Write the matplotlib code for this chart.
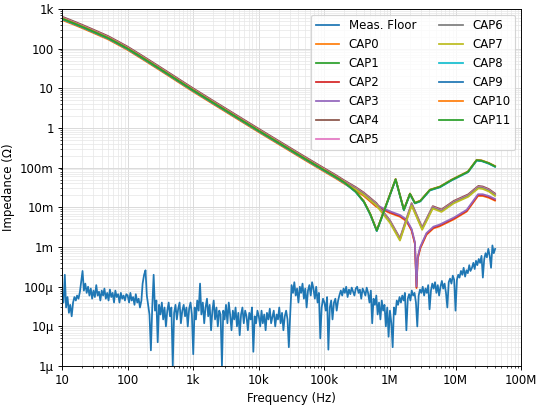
import numpy as np
import matplotlib
matplotlib.use('Agg')
import matplotlib.pyplot as plt
from matplotlib.ticker import EngFormatter

# ------------------------- Measurement floor -------------------------
# E48 frequency steps, one list of floor values (in micro-ohm) per decade
e48 = [1.00, 1.05, 1.10, 1.15, 1.21, 1.27, 1.33, 1.40, 1.47, 1.54, 1.62, 1.69,
       1.78, 1.87, 1.96, 2.05, 2.15, 2.26, 2.37, 2.49, 2.61, 2.74, 2.87, 3.01,
       3.16, 3.32, 3.48, 3.65, 3.83, 4.02, 4.22, 4.42, 4.64, 4.87, 5.11, 5.36,
       5.62, 5.90, 6.19, 6.49, 6.81, 7.15, 7.50, 7.87, 8.25, 8.66, 9.09, 9.53]

floor_10Hz = [70, 40, 200, 30, 55, 22, 35, 18, 40, 55, 45, 60,
              50, 75, 140, 250, 80, 120, 70, 100, 60, 90, 50, 80,
              55, 110, 60, 75, 45, 80, 60, 90, 50, 70, 45, 85,
              55, 70, 40, 80, 55, 65, 40, 70, 50, 60, 45, 65]
floor_100Hz = [60, 40, 70, 45, 55, 35, 65, 40, 50, 30, 45, 120,
               200, 260, 60, 35, 20, 2.5, 30, 200, 25, 45, 4, 35,
               20, 40, 15, 30, 10, 25, 40, 18, 30, 1.0, 22, 35,
               15, 28, 40, 12, 25, 35, 18, 30, 10, 28, 40, 20]
floor_1kHz = [2, 30, 15, 45, 25, 120, 20, 40, 12, 30, 50, 18,
              35, 8, 25, 45, 15, 30, 10, 25, 20, 1.0, 25, 15,
              35, 12, 40, 20, 8, 25, 15, 30, 10, 22, 6, 20,
              30, 12, 25, 18, 8, 22, 15, 30, 2.3, 18, 12, 25]
floor_10kHz = [18, 10, 25, 12, 20, 8, 22, 15, 28, 12, 18, 25,
               10, 20, 15, 30, 12, 22, 8, 18, 25, 15, 3, 20,
               110, 70, 130, 60, 90, 40, 100, 70, 120, 50, 90, 30,
               80, 110, 60, 130, 90, 50, 100, 40, 70, 5, 30, 50]
floor_100kHz = [40, 25, 55, 2.6, 30, 45, 15, 40, 50, 25, 45, 60,
                80, 60, 90, 70, 100, 55, 85, 65, 95, 75, 60, 90,
                100, 70, 85, 50, 90, 75, 60, 95, 70, 40, 80, 12,
                50, 35, 60, 20, 40, 15, 45, 25, 35, 10, 30, 5.5]
floor_1MHz = [25, 12, 3, 30, 20, 45, 35, 55, 40, 60, 45, 70,
              8, 50, 65, 45, 80, 60, 70, 40, 10, 60, 85, 70,
              100, 60, 90, 70, 110, 27, 80, 120, 90, 130, 70, 110,
              60, 100, 140, 90, 120, 70, 30, 130, 160, 120, 190, 150]
floor_10MHz = [25, 150, 200, 170, 250, 200, 300, 180, 260, 220, 350, 250,
               300, 400, 280, 450, 350, 500, 400, 600, 170, 500, 700, 550,
               900, 600, 300, 1100, 700, 900]

floor_decades = [floor_10Hz, floor_100Hz, floor_1kHz, floor_10kHz,
                 floor_100kHz, floor_1MHz, floor_10MHz]

floor_f = []
floor_z = []
for d, vals in enumerate(floor_decades):
    for m, v in zip(e48, vals):
        floor_f.append(m * 10 ** (d + 1))
        floor_z.append(v * 1e-6)

# ------------------------- Capacitor curves -------------------------
# shared low frequency part
cap_f_low = [10, 15, 20, 30, 50, 70, 100, 150, 200, 300, 500, 700, 1e3, 2e3, 5e3,
             1e4, 2e4, 5e4, 1e5, 1.5e5, 2e5]
cap_z_low = [570, 437, 359, 269, 186, 138, 100, 66, 49, 32, 18.6, 13, 8.9, 4.37, 1.72,
             0.85, 0.425, 0.17, 0.086, 0.058, 0.043]

# group A (upper curve)
fa = [3e5, 4e5, 5e5, 6.3e5, 1.22e6, 1.63e6, 2.02e6, 2.4e6, 2.9e6, 4.07e6,
      5.8e6, 8.7e6, 15.5e6, 21e6, 25e6, 32e6, 40e6]
za = [0.025, 0.014, 0.0068, 0.0026, 0.051, 0.0087, 0.022, 0.0129, 0.0145, 0.0275,
      0.033, 0.049, 0.079, 0.155, 0.150, 0.130, 0.108]

# group B (double dip)
fb = [3e5, 4e5, 6.2e5, 1e6, 1.42e6, 2.14e6, 3.1e6, 4.5e6, 6.1e6, 9.4e6,
      15.6e6, 19e6, 22.3e6, 26e6, 32e6, 40e6]
zb = [0.029, 0.021, 0.0115, 0.0042, 0.0015, 0.0114, 0.0028, 0.0096, 0.0079, 0.013,
      0.019, 0.025, 0.031, 0.030, 0.026, 0.020]

# group C (deep single dip)
fc = [3e5, 4e5, 6.2e5, 1e6, 1.42e6, 1.78e6, 2.14e6, 2.4e6, 2.54e6, 2.65e6,
      2.9e6, 3.6e6, 4.6e6, 5.7e6, 9.4e6, 14.8e6, 19e6, 22e6, 26e6, 32e6, 40e6]
zc = [0.029, 0.021, 0.0112, 0.0078, 0.0063, 0.0049, 0.0028, 0.0013, 0.0001, 0.00055,
      0.001, 0.0022, 0.0032, 0.0036, 0.0054, 0.0085, 0.015, 0.021, 0.021, 0.019, 0.016]

cap_labels = ['CAP0', 'CAP1', 'CAP2', 'CAP3', 'CAP4', 'CAP5',
              'CAP6', 'CAP7', 'CAP8', 'CAP9', 'CAP10', 'CAP11']
cap_group = ['C', 'A', 'C', 'C', 'B', 'B', 'B', 'B', 'A', 'A', 'A', 'A']
cap_scale = [0.92, 1.0, 0.96, 1.02, 1.12, 1.06, 1.03, 0.97, 0.97, 0.99, 1.02, 1.0]

tails = {'A': (fa, za), 'B': (fb, zb), 'C': (fc, zc)}

# ------------------------- Plot -------------------------
fig, ax = plt.subplots(figsize=(6.4, 4.8), dpi=84.375)
fig.subplots_adjust(left=0.115, right=0.965, top=0.978, bottom=0.096)

ax.plot(floor_f, floor_z, label='Meas. Floor')
for lab, grp, sc in zip(cap_labels, cap_group, cap_scale):
    tf, tz = tails[grp]
    f = cap_f_low + tf
    z = np.array(cap_z_low + tz) * sc
    ax.plot(f, z, label=lab)

ax.set_xscale('log')
ax.set_yscale('log')
ax.set_xlim(10, 1e8)
ax.set_ylim(1e-6, 1e3)
ax.xaxis.set_major_formatter(EngFormatter(sep=''))
ax.yaxis.set_major_formatter(EngFormatter(sep=''))
ax.grid(True, which='major', color='0.85', lw=0.8)
ax.grid(True, which='minor', color='0.9', lw=0.6)
ax.set_xlabel('Frequency (Hz)')
ax.set_ylabel('Impedance (Ω)')
ax.legend(loc='upper right', ncol=2)

plt.savefig('out.png')
